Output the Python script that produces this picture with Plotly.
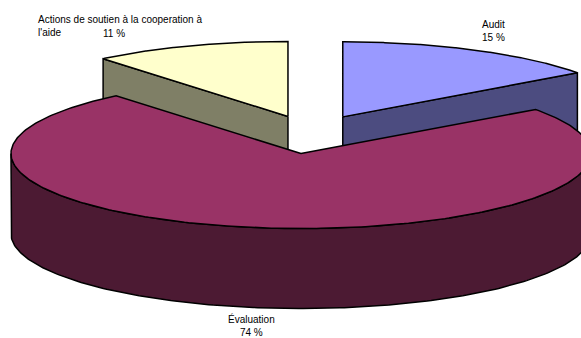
import numpy as np
import textwrap
import plotly.graph_objects as go

# ---- data ----
labels = ["Audit", "Évaluation", "Actions de soutien à la cooperation à l'aide"]
values = [15, 74, 11]
top_colors = ["#9999FF", "#993366", "#FFFFCC"]
side_colors = ["#4C4C80", "#4C1A33", "#7F7F66"]

# ---- geometry / style (not data) ----
CX, CY = 311.0, 133.0      # pie centre (pixels)
A, B = 290.0, 75.0         # ellipse radii
DEPTH = 80.0               # pie thickness
EXPLODE = [70.0, 80.0, 68.0]
LINE = dict(color="black", width=1.5)

total = float(sum(values))
fracs = np.array(values) / total
ends = np.cumsum(fracs) * 2 * np.pi
starts = ends - fracs * 2 * np.pi


def pt(cx, cy, th, dz=0.0):
    return cx + A * np.sin(th), cy - B * np.cos(th) + dz


fig = go.Figure()


def poly(xs, ys, fill):
    fig.add_trace(go.Scatter(x=list(xs), y=list(ys), mode="lines", fill="toself",
                             fillcolor=fill, line=LINE, hoverinfo="skip",
                             showlegend=False))


slices = []
for i in range(len(values)):
    t1, t2 = starts[i], ends[i]
    mid = (t1 + t2) / 2
    cx = CX + EXPLODE[i] * np.sin(mid)
    cy = CY - EXPLODE[i] * np.cos(mid) * B / A
    slices.append((i, t1, t2, cx, cy))

# draw back slices first (those exploded upward), then front ones
order = sorted(slices, key=lambda s: s[4])

for i, t1, t2, cx, cy in order:
    # cut face at start angle (visible if outward normal faces viewer)
    if np.cos(t1 - np.pi / 2) < -1e-6:
        x0, y0 = pt(cx, cy, t1)
        poly([cx, x0, x0, cx, cx], [cy, y0, y0 + DEPTH, cy + DEPTH, cy], side_colors[i])
    # cut face at end angle
    if np.cos(t2 + np.pi / 2) < -1e-6:
        x0, y0 = pt(cx, cy, t2)
        poly([cx, x0, x0, cx, cx], [cy, y0, y0 + DEPTH, cy + DEPTH, cy], side_colors[i])
    # outer curved wall (front half only)
    a1, a2 = max(t1, np.pi / 2), min(t2, 3 * np.pi / 2)
    if a2 > a1:
        th = np.linspace(a1, a2, 200)
        xt, yt = pt(cx, cy, th)
        xs = np.concatenate([xt, xt[::-1], xt[:1]])
        ys = np.concatenate([yt, (yt + DEPTH)[::-1], yt[:1]])
        poly(xs, ys, side_colors[i])
    # top face
    th = np.linspace(t1, t2, 300)
    xt, yt = pt(cx, cy, th)
    poly(np.concatenate([[cx], xt, [cx]]), np.concatenate([[cy], yt, [cy]]), top_colors[i])

# ---- labels ----
FONT = dict(family="Liberation Sans, Arial, sans-serif", size=10, color="black")
# Audit
fig.add_annotation(x=493, y=31, text=f"{labels[0]}<br>{values[0]} %", showarrow=False,
                   font=FONT, xref="x", yref="y", align="center")
# Évaluation
fig.add_annotation(x=251, y=325, text=f"{labels[1]}<br>{values[1]} %", showarrow=False,
                   font=FONT, xref="x", yref="y", align="center")
# Actions (wrapped name, percent beside the second line)
wrapped = textwrap.wrap(labels[2], 37)
fig.add_annotation(x=36, y=26, text="<br>".join(wrapped), showarrow=False, font=FONT,
                   xref="x", yref="y", xanchor="left", align="left")
fig.add_annotation(x=114, y=33, text=f"{values[2]} %", showarrow=False, font=FONT,
                   xref="x", yref="y", xanchor="center")

fig.update_layout(
    width=581, height=338,
    margin=dict(l=0, r=0, t=0, b=0),
    paper_bgcolor="white", plot_bgcolor="white",
    xaxis=dict(range=[0, 581], visible=False, fixedrange=True),
    yaxis=dict(range=[338, 0], visible=False, fixedrange=True),
)

fig.write_html("out.html")
